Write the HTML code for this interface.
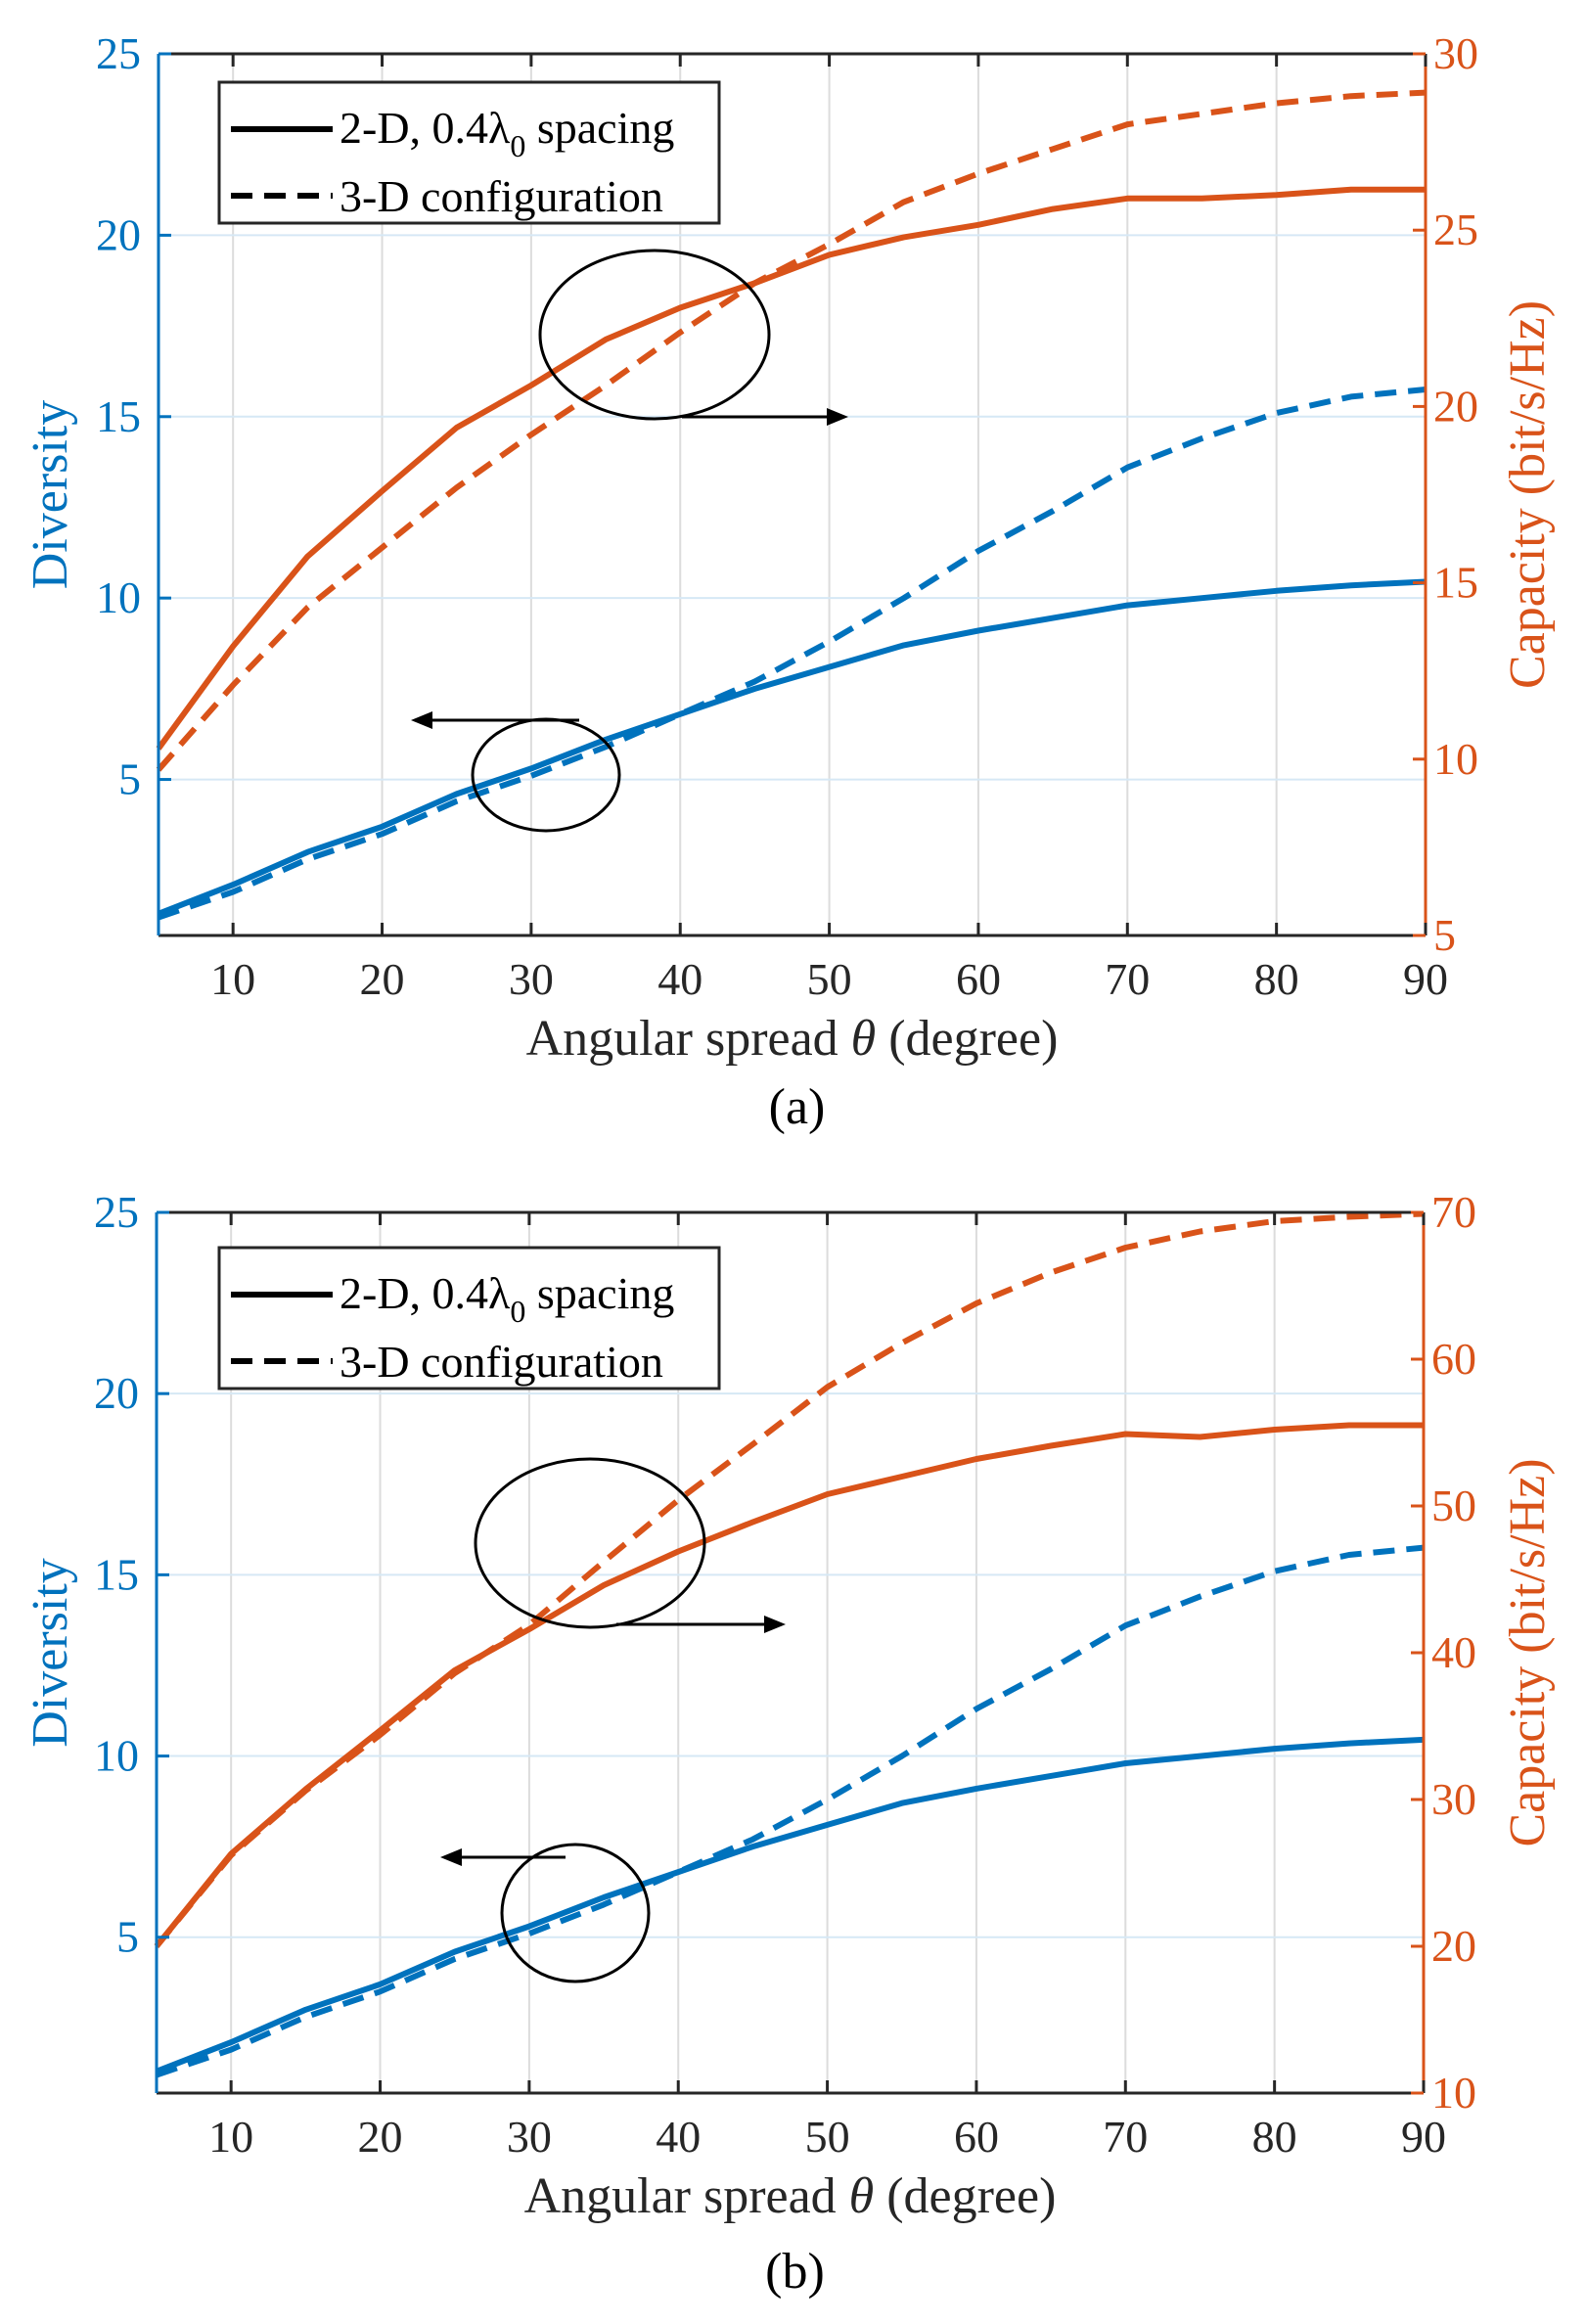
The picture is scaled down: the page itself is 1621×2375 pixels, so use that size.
<!DOCTYPE html>
<html><head><meta charset="utf-8"><style>
html,body{margin:0;padding:0;background:#fff}
svg{display:block}
svg text{font-family:"Liberation Serif","Times New Roman",serif}
</style></head><body>
<svg id="fig" width="1621" height="2375" viewBox="0 0 1621 2375" xmlns="http://www.w3.org/2000/svg" font-family="Liberation Serif, serif"></svg>
<script>
const angles=[5,10,15,20,25,30,35,40,45,50,55,60,65,70,75,80,85,90];
const xTicks=[10,20,30,40,50,60,70,80,90];
const divTicks=[5,10,15,20,25];
const divSolid=[1.3,2.1,3.0,3.7,4.6,5.3,6.1,6.8,7.5,8.1,8.7,9.1,9.45,9.8,10.0,10.2,10.35,10.45];
const divDashed=[1.2,1.9,2.8,3.5,4.4,5.1,5.9,6.8,7.7,8.8,10.0,11.3,12.4,13.6,14.4,15.1,15.55,15.75];
const capATicks=[5,10,15,20,25,30];
const capASolid=[10.3,13.2,15.75,17.6,19.4,20.6,21.9,22.8,23.5,24.3,24.8,25.15,25.6,25.9,25.9,26.0,26.15,26.15];
const capADashed=[9.7,12.1,14.3,16.0,17.7,19.2,20.6,22.1,23.5,24.6,25.8,26.6,27.3,28.0,28.3,28.6,28.8,28.9];
const capBTicks=[10,20,30,40,50,60,70];
const capBSolid=[20,26.3,30.7,34.7,38.8,41.6,44.6,46.9,48.9,50.8,52,53.2,54.1,54.9,54.7,55.2,55.5,55.5];
const capBDashed=[20,26.2,30.6,34.4,38.6,41.9,46.2,50.4,54.2,58.1,61.1,63.8,65.9,67.6,68.7,69.4,69.7,69.9];

const NS='http://www.w3.org/2000/svg';
const svg=document.getElementById('fig');
const BLUE='#0072BD',ORANGE='#D95319';
const FF='Liberation Serif, serif';
function mk(tag,attrs,parent){const e=document.createElementNS(NS,tag);for(const k in attrs)e.setAttribute(k,attrs[k]);if(tag==='text')e.setAttribute('font-family',FF);(parent||svg).appendChild(e);return e;}

function panel(id,L,R,T,B,capMin,capMax,capTicks,capS,capD,legY,bigC,bigArrow,smC,smArrow,label,labelY){
  const g=mk('g',{});
  
  
  const xs=v=>L+(v-5)/(90-5)*(R-L);
  const yd=v=>T+(25-v)/(25-0.7)*(B-T);
  const yc=v=>T+(capMax-v)/(capMax-capMin)*(B-T);
  xTicks.forEach(t=>{if(t<90){const l=mk('line',{x1:xs(t),x2:xs(t),y1:T,y2:B,stroke:'#dcdcdc','stroke-width':2},g);
    
    }});
  divTicks.forEach(t=>{if(t<25){const l=mk('line',{x1:L,x2:R,y1:yd(t),y2:yd(t),stroke:'#d6e8f5','stroke-width':2},g);
    
    }});
  function series(vals,yf,color,dash,name){
    const pts=angles.map((a,i)=>xs(a).toFixed(1)+','+yf(vals[i]).toFixed(1)).join(' ');
    const p=mk('polyline',{points:pts,fill:'none',stroke:color,'stroke-width':6,'stroke-linejoin':'round'},g);
    if(dash)p.setAttribute('stroke-dasharray','22,12');
    
    
  }
  series(divSolid,yd,BLUE,false,'diversity-2d-line');
  series(divDashed,yd,BLUE,true,'diversity-3d-line');
  series(capS,yc,ORANGE,false,'capacity-2d-line');
  series(capD,yc,ORANGE,true,'capacity-3d-line');
  mk('line',{x1:L,x2:R,y1:T,y2:T,stroke:'#262626','stroke-width':3},g);
  mk('line',{x1:L,x2:R,y1:B,y2:B,stroke:'#262626','stroke-width':3},g);
  const la=mk('line',{x1:L,x2:L,y1:T,y2:B,stroke:BLUE,'stroke-width':3},g);
  
  
  const ra=mk('line',{x1:R,x2:R,y1:T,y2:B,stroke:ORANGE,'stroke-width':3},g);
  
  
  xTicks.forEach(t=>{
    mk('line',{x1:xs(t),x2:xs(t),y1:B,y2:B-13,stroke:'#262626','stroke-width':3},g);
    mk('line',{x1:xs(t),x2:xs(t),y1:T,y2:T+13,stroke:'#262626','stroke-width':3},g);
    const tx=mk('text',{x:xs(t),y:B+60,'text-anchor':'middle','font-size':46,fill:'#262626'},g);
    tx.textContent=t;
    
    
  });
  divTicks.forEach(t=>{
    mk('line',{x1:L,x2:L+13,y1:yd(t),y2:yd(t),stroke:BLUE,'stroke-width':3},g);
    const tx=mk('text',{x:L-18,y:yd(t)+15,'text-anchor':'end','font-size':46,fill:BLUE},g);
    tx.textContent=t;
    
    
  });
  capTicks.forEach(t=>{
    mk('line',{x1:R,x2:R-13,y1:yc(t),y2:yc(t),stroke:ORANGE,'stroke-width':3},g);
    const tx=mk('text',{x:R+8,y:yc(t)+15,'text-anchor':'start','font-size':46,fill:ORANGE},g);
    tx.textContent=t;
    
    
  });
  const mid=(T+B)/2;
  const yt=mk('text',{x:0,y:0,transform:`translate(68,${mid}) rotate(-90)`,'text-anchor':'middle','font-size':52,fill:BLUE},g);
  yt.textContent='Diversity';
  
  
  const rt=mk('text',{x:0,y:0,transform:`translate(1578,${mid}) rotate(-90)`,'text-anchor':'middle','font-size':52,fill:ORANGE},g);
  rt.textContent='Capacity (bit/s/Hz)';
  
  
  const xt=mk('text',{x:(L+R)/2,y:B+122,'text-anchor':'middle','font-size':52,fill:'#262626'},g);
  xt.innerHTML='Angular spread <tspan font-style="italic">θ</tspan> (degree)';
  
  
  const pl=mk('text',{x:(L+R)/2+5,y:labelY,'text-anchor':'middle','font-size':52,fill:'#000'},g);
  pl.textContent=label;
  
  
  const c1=mk('ellipse',{cx:bigC[0],cy:bigC[1],rx:bigC[2],ry:bigC[3],fill:'none',stroke:'#000','stroke-width':3},g);
  
  
  mk('line',{x1:bigArrow[0],y1:bigArrow[2],x2:bigArrow[1]-18,y2:bigArrow[2],stroke:'#000','stroke-width':3},g);
  mk('polygon',{points:`${bigArrow[1]},${bigArrow[2]} ${bigArrow[1]-22},${bigArrow[2]-9} ${bigArrow[1]-22},${bigArrow[2]+9}`,fill:'#000'},g);
  const c2=mk('ellipse',{cx:smC[0],cy:smC[1],rx:smC[2],ry:smC[3],fill:'none',stroke:'#000','stroke-width':3},g);
  
  
  mk('line',{x1:smArrow[0],y1:smArrow[2],x2:smArrow[1]+18,y2:smArrow[2],stroke:'#000','stroke-width':3},g);
  mk('polygon',{points:`${smArrow[1]},${smArrow[2]} ${smArrow[1]+22},${smArrow[2]-9} ${smArrow[1]+22},${smArrow[2]+9}`,fill:'#000'},g);
  const lg=mk('g',{},g);
  
  
  mk('rect',{x:224,y:legY,width:511,height:144,fill:'#fff',stroke:'#262626','stroke-width':3},lg);
  mk('line',{x1:236,x2:340,y1:legY+48,y2:legY+48,stroke:'#000','stroke-width':6},lg);
  mk('line',{x1:236,x2:340,y1:legY+116,y2:legY+116,stroke:'#000','stroke-width':6,'stroke-dasharray':'22,12'},lg);
  const t1=mk('text',{x:347,y:legY+62,'font-size':46,fill:'#000'},lg);
  t1.innerHTML='2-D, 0.4λ<tspan font-size="32" dy="14">0</tspan><tspan dy="-14"> spacing</tspan>';
  
  
  const t2=mk('text',{x:347,y:legY+132,'font-size':46,fill:'#000'},lg);
  t2.textContent='3-D configuration';
  
  
}
panel('a',162,1457,55,956,5,30,capATicks,capASolid,capADashed,84,[669,342,117,86],[697,867,426],[558,792,75,57],[592,420,736],'(a)',1148);
panel('b',160,1455,1239,2139,10,70,capBTicks,capBSolid,capBDashed,1275,[603,1577,117,86],[630,803,1660],[588,1955,75,70],[578,450,1898],'(b)',2338);
</script>
</body></html>
